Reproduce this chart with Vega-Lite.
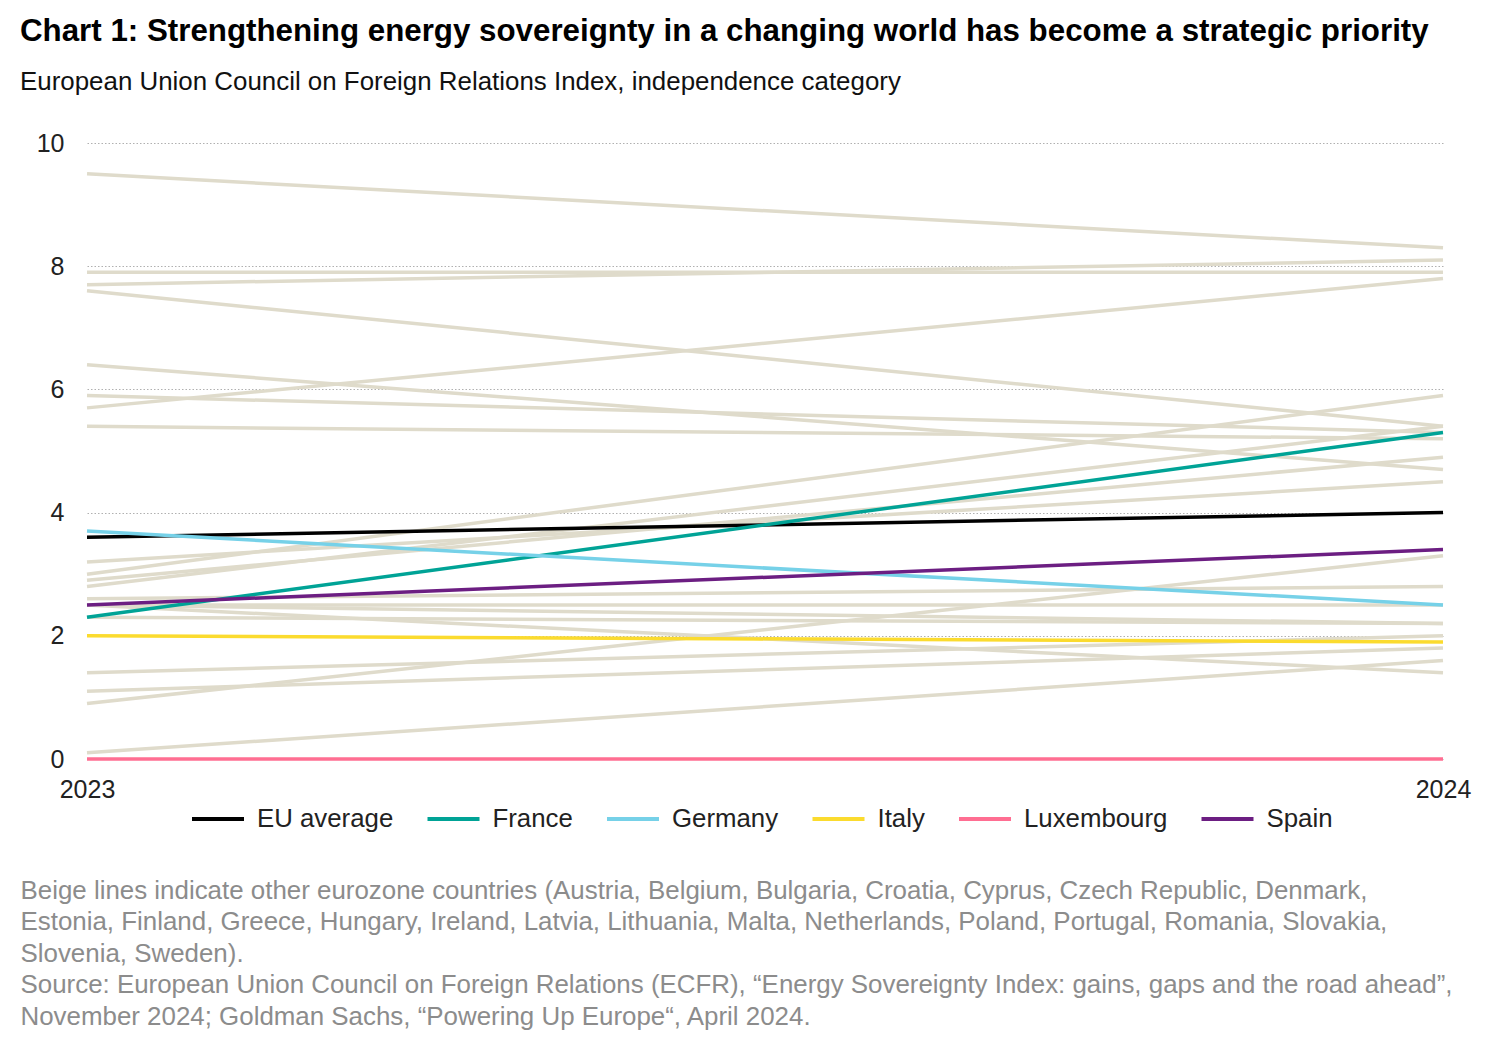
{
  "$schema": "https://vega.github.io/schema/vega-lite/v6.json",
  "width": 1356,
  "height": 616,
  "autosize": {"type": "none"},
  "padding": {"left": 87, "top": 143, "right": 57, "bottom": 287},
  "background": "white",
  "title": {
    "text": "Chart 1: Strengthening energy sovereignty in a changing world has become a strategic priority",
    "subtitle": "European Union Council on Foreign Relations Index, independence category",
    "anchor": "start",
    "frame": "group",
    "dx": -67,
    "offset": 36,
    "font": "Liberation Sans",
    "fontSize": 31.3,
    "fontWeight": "bold",
    "color": "#000000",
    "subtitleFont": "Liberation Sans",
    "subtitleFontSize": 25.9,
    "subtitleColor": "#111111",
    "subtitlePadding": 23
  },
  "datasets": {
    "others": [
      {"country": "Austria", "year": "2023", "value": 9.5}, {"country": "Austria", "year": "2024", "value": 8.3},
      {"country": "Belgium", "year": "2023", "value": 7.9}, {"country": "Belgium", "year": "2024", "value": 7.9},
      {"country": "Bulgaria", "year": "2023", "value": 7.7}, {"country": "Bulgaria", "year": "2024", "value": 8.1},
      {"country": "Croatia", "year": "2023", "value": 7.6}, {"country": "Croatia", "year": "2024", "value": 5.4},
      {"country": "Cyprus", "year": "2023", "value": 6.4}, {"country": "Cyprus", "year": "2024", "value": 4.7},
      {"country": "Czech Republic", "year": "2023", "value": 5.9}, {"country": "Czech Republic", "year": "2024", "value": 5.3},
      {"country": "Denmark", "year": "2023", "value": 5.7}, {"country": "Denmark", "year": "2024", "value": 7.8},
      {"country": "Estonia", "year": "2023", "value": 5.4}, {"country": "Estonia", "year": "2024", "value": 5.2},
      {"country": "Finland", "year": "2023", "value": 3.2}, {"country": "Finland", "year": "2024", "value": 4.5},
      {"country": "Greece", "year": "2023", "value": 3.0}, {"country": "Greece", "year": "2024", "value": 5.9},
      {"country": "Hungary", "year": "2023", "value": 2.9}, {"country": "Hungary", "year": "2024", "value": 4.9},
      {"country": "Ireland", "year": "2023", "value": 2.8}, {"country": "Ireland", "year": "2024", "value": 5.4},
      {"country": "Latvia", "year": "2023", "value": 2.6}, {"country": "Latvia", "year": "2024", "value": 2.8},
      {"country": "Lithuania", "year": "2023", "value": 2.5}, {"country": "Lithuania", "year": "2024", "value": 2.5},
      {"country": "Malta", "year": "2023", "value": 2.5}, {"country": "Malta", "year": "2024", "value": 2.2},
      {"country": "Netherlands", "year": "2023", "value": 2.5}, {"country": "Netherlands", "year": "2024", "value": 1.4},
      {"country": "Poland", "year": "2023", "value": 2.3}, {"country": "Poland", "year": "2024", "value": 2.2},
      {"country": "Portugal", "year": "2023", "value": 1.4}, {"country": "Portugal", "year": "2024", "value": 2.0},
      {"country": "Romania", "year": "2023", "value": 1.1}, {"country": "Romania", "year": "2024", "value": 1.8},
      {"country": "Slovakia", "year": "2023", "value": 0.9}, {"country": "Slovakia", "year": "2024", "value": 3.3},
      {"country": "Slovenia", "year": "2023", "value": 0.1}, {"country": "Slovenia", "year": "2024", "value": 1.6}
    ],
    "named": [
      {"country": "EU average", "year": "2023", "value": 3.6}, {"country": "EU average", "year": "2024", "value": 4.0},
      {"country": "France", "year": "2023", "value": 2.3}, {"country": "France", "year": "2024", "value": 5.3},
      {"country": "Germany", "year": "2023", "value": 3.7}, {"country": "Germany", "year": "2024", "value": 2.5},
      {"country": "Italy", "year": "2023", "value": 2.0}, {"country": "Italy", "year": "2024", "value": 1.9},
      {"country": "Luxembourg", "year": "2023", "value": 0.0}, {"country": "Luxembourg", "year": "2024", "value": 0.0},
      {"country": "Spain", "year": "2023", "value": 2.5}, {"country": "Spain", "year": "2024", "value": 3.4}
    ]
  },
  "encoding": {
    "x": {
      "field": "year",
      "type": "ordinal",
      "scale": {"type": "point", "padding": 0},
      "axis": {
        "labelAngle": 0,
        "labelFont": "Liberation Sans",
        "labelFontSize": 25,
        "labelColor": "#222222",
        "labelPadding": 18,
        "ticks": false,
        "domain": false,
        "grid": false,
        "title": [
          "Beige lines indicate other eurozone countries (Austria, Belgium, Bulgaria, Croatia, Cyprus, Czech Republic, Denmark,",
          "Estonia, Finland, Greece, Hungary, Ireland, Latvia, Lithuania, Malta, Netherlands, Poland, Portugal, Romania, Slovakia,",
          "Slovenia, Sweden).",
          "Source: European Union Council on Foreign Relations (ECFR), “Energy Sovereignty Index: gains, gaps and the road ahead”,",
          "November 2024; Goldman Sachs, “Powering Up Europe“, April 2024."
        ],
        "titleFont": "Liberation Sans",
        "titleFontSize": 25.9,
        "titleFontWeight": "normal",
        "titleColor": "#8C8C8C",
        "titleLineHeight": 31.5,
        "titleAnchor": "start",
        "titleAlign": "left",
        "titleBaseline": "alphabetic",
        "titleX": -67,
        "titleY": 139
      }
    },
    "y": {
      "field": "value",
      "type": "quantitative",
      "scale": {"domain": [0, 10], "nice": false},
      "axis": {
        "values": [0, 2, 4, 6, 8, 10],
        "title": null,
        "labelFont": "Liberation Sans",
        "labelFontSize": 25,
        "labelColor": "#222222",
        "labelPadding": 23,
        "ticks": false,
        "domain": false,
        "gridColor": "#B0B0B0",
        "gridDash": [1.5, 2],
        "gridWidth": 1
      }
    }
  },
  "layer": [
    {
      "data": {"name": "others"},
      "mark": {"type": "line", "strokeWidth": 3.5, "color": "#DFDBCB"},
      "encoding": {"detail": {"field": "country", "type": "nominal"}}
    },
    {
      "data": {"name": "named"},
      "mark": {"type": "line", "strokeWidth": 3.5},
      "encoding": {
        "color": {
          "field": "country",
          "type": "nominal",
          "scale": {
            "domain": ["EU average", "France", "Germany", "Italy", "Luxembourg", "Spain"],
            "range": ["#000000", "#00A396", "#76D1E8", "#FBDB2E", "#FF6E92", "#6C1E82"]
          },
          "legend": {
            "title": null,
            "orient": "none",
            "direction": "horizontal",
            "legendX": 103,
            "legendY": 648,
            "symbolType": "stroke",
            "symbolSize": 2704,
            "symbolStrokeWidth": 4,
            "labelFont": "Liberation Sans",
            "labelFontSize": 25.8,
            "labelColor": "#222222",
            "labelOffset": 11,
            "columnPadding": 25.5,
            "labelLimit": 400
          }
        }
      }
    }
  ],
  "config": {"view": {"stroke": null}}
}
